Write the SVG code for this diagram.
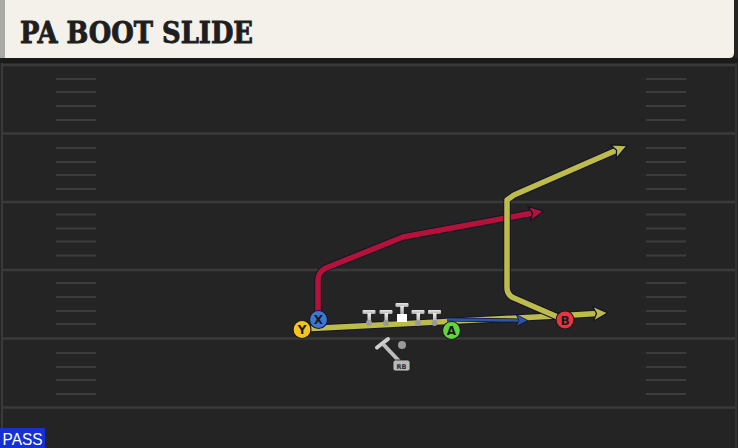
<svg xmlns="http://www.w3.org/2000/svg" width="738" height="448" viewBox="0 0 738 448">
<defs>
<style>
.yard{stroke:#3a3a3a;stroke-width:2.5}
.hash{stroke:#3c3c3c;stroke-width:2}
.out{fill:none;stroke:#15152a;stroke-width:7.5;stroke-linejoin:round;stroke-linecap:butt}
.rt{fill:none;stroke-width:5.5;stroke-linejoin:round}
.ylw{stroke:#bcbb4c}
.red{stroke:#b5123a}
.blu{stroke:#2c55a8}
.plr{stroke:#1b1b1b;stroke-width:1.2}
.pl{font-family:"DejaVu Sans","Liberation Sans",sans-serif;font-weight:bold;font-size:12px;fill:#1a1a1a;text-anchor:middle}
.dot{fill:#9a9a9a}
</style>
<marker id="ay" markerUnits="userSpaceOnUse" markerWidth="22" markerHeight="22" refX="6" refY="10" orient="auto" viewBox="0 0 22 20">
<path d="M2,2.5 L17,10 L2,17.5 L5.5,10 Z" fill="#bcbb4c" stroke="#15152a" stroke-width="1.3" stroke-linejoin="round"/>
</marker>
<marker id="ar" markerUnits="userSpaceOnUse" markerWidth="22" markerHeight="22" refX="6" refY="10" orient="auto" viewBox="0 0 22 20">
<path d="M2,2.5 L17,10 L2,17.5 L5.5,10 Z" fill="#b5123a" stroke="#15152a" stroke-width="1.3" stroke-linejoin="round"/>
</marker>
<marker id="ab" markerUnits="userSpaceOnUse" markerWidth="22" markerHeight="22" refX="6" refY="10" orient="auto" viewBox="0 0 22 20">
<path d="M3,4 L15,10 L3,16 L6,10 Z" fill="#2c55a8" stroke="#15152a" stroke-width="0.8" stroke-linejoin="round"/>
</marker>
<linearGradient id="tg" x1="0" y1="0" x2="0" y2="1">
<stop offset="0" stop-color="#ececec"/>
<stop offset="1" stop-color="#a8a8a8"/>
</linearGradient>
</defs>

<g id="field">
<rect x="0" y="0" width="738" height="448" fill="#242424"/>
<rect x="0" y="58" width="738" height="5" fill="#1a1a1a"/>
<line x1="2" y1="63" x2="2" y2="448" stroke="#3a3a3a" stroke-width="2"/>
<line x1="736" y1="63" x2="736" y2="448" stroke="#333" stroke-width="2"/>
<line class="yard" x1="3" y1="65" x2="735" y2="65"/>
<line class="yard" x1="3" y1="133.5" x2="735" y2="133.5"/>
<line class="yard" x1="3" y1="202" x2="735" y2="202"/>
<line class="yard" x1="3" y1="270" x2="735" y2="270"/>
<line class="yard" x1="3" y1="338.5" x2="735" y2="338.5"/>
<line class="yard" x1="3" y1="407.5" x2="735" y2="407.5"/>
<g id="hashL">
<line class="hash" x1="56" y1="79" x2="96" y2="79"/><line class="hash" x1="56" y1="92" x2="96" y2="92"/><line class="hash" x1="56" y1="106" x2="96" y2="106"/><line class="hash" x1="56" y1="120" x2="96" y2="120"/>
<line class="hash" x1="56" y1="148" x2="96" y2="148"/><line class="hash" x1="56" y1="162" x2="96" y2="162"/><line class="hash" x1="56" y1="175" x2="96" y2="175"/><line class="hash" x1="56" y1="189" x2="96" y2="189"/>
<line class="hash" x1="56" y1="214.5" x2="96" y2="214.5"/><line class="hash" x1="56" y1="228.5" x2="96" y2="228.5"/><line class="hash" x1="56" y1="241.5" x2="96" y2="241.5"/><line class="hash" x1="56" y1="255.5" x2="96" y2="255.5"/>
<line class="hash" x1="56" y1="283" x2="96" y2="283"/><line class="hash" x1="56" y1="297" x2="96" y2="297"/><line class="hash" x1="56" y1="311" x2="96" y2="311"/><line class="hash" x1="56" y1="324" x2="96" y2="324"/>
<line class="hash" x1="56" y1="353" x2="96" y2="353"/><line class="hash" x1="56" y1="367" x2="96" y2="367"/><line class="hash" x1="56" y1="380" x2="96" y2="380"/><line class="hash" x1="56" y1="394" x2="96" y2="394"/>
</g>
<g id="hashR">
<line class="hash" x1="646" y1="79" x2="686" y2="79"/><line class="hash" x1="646" y1="92" x2="686" y2="92"/><line class="hash" x1="646" y1="106" x2="686" y2="106"/><line class="hash" x1="646" y1="120" x2="686" y2="120"/>
<line class="hash" x1="646" y1="148" x2="686" y2="148"/><line class="hash" x1="646" y1="162" x2="686" y2="162"/><line class="hash" x1="646" y1="175" x2="686" y2="175"/><line class="hash" x1="646" y1="189" x2="686" y2="189"/>
<line class="hash" x1="646" y1="214.5" x2="686" y2="214.5"/><line class="hash" x1="646" y1="228.5" x2="686" y2="228.5"/><line class="hash" x1="646" y1="241.5" x2="686" y2="241.5"/><line class="hash" x1="646" y1="255.5" x2="686" y2="255.5"/>
<line class="hash" x1="646" y1="283" x2="686" y2="283"/><line class="hash" x1="646" y1="297" x2="686" y2="297"/><line class="hash" x1="646" y1="311" x2="686" y2="311"/><line class="hash" x1="646" y1="324" x2="686" y2="324"/>
<line class="hash" x1="646" y1="353" x2="686" y2="353"/><line class="hash" x1="646" y1="367" x2="686" y2="367"/><line class="hash" x1="646" y1="380" x2="686" y2="380"/><line class="hash" x1="646" y1="394" x2="686" y2="394"/>
</g>
</g>

<g id="header">
<path d="M0,0 H734 V53 Q734,58 729,58 H0 Z" fill="#f4f1ea"/>
<rect x="0" y="0" width="5" height="58" fill="#a9aaa8"/>
<text x="20" y="43" font-family="'DejaVu Serif','Liberation Serif',serif" font-weight="bold" font-size="29" fill="#1e1e1e" stroke="#1e1e1e" stroke-width="0.9" textLength="233" lengthAdjust="spacingAndGlyphs">PA BOOT SLIDE</text>
</g>

<g id="connectors">
<path class="out" d="M318,320 V280 Q318,272 326,268 L403,237 L533,213"/>
<path class="rt red" d="M318,320 V280 Q318,272 326,268 L403,237 L533,213" marker-end="url(#ar)"/>
<path class="out" d="M302,329 L556,316 L597,313.5"/>
<path class="rt ylw" d="M302,329 L556,316 L597,313.5" marker-end="url(#ay)"/>
<path class="out" d="M560,318 L514,298 Q507,295 507,288 V200 L514,195 L617,150"/>
<path class="rt ylw" d="M560,318 L514,298 Q507,295 507,288 V200 L514,195 L617,150" marker-end="url(#ay)"/>
<path d="M447,319.5 L519,320.5" fill="none" stroke="#15152a" stroke-width="4"/>
<path d="M447,319.5 L519,320.5" fill="none" stroke="#2c55a8" stroke-width="2.5" marker-end="url(#ab)"/>
</g>

<g id="line">
<g id="lt"><rect x="362.5" y="310" width="13" height="4" rx="1" fill="url(#tg)"/><rect x="367.5" y="313" width="3.5" height="10" fill="url(#tg)"/><circle class="dot" cx="369" cy="323" r="3"/></g>
<g id="lg"><rect x="379.5" y="310" width="13" height="4" rx="1" fill="url(#tg)"/><rect x="384.5" y="313" width="3.5" height="10" fill="url(#tg)"/><circle class="dot" cx="386" cy="323" r="3"/></g>
<g id="c"><rect x="395.5" y="303" width="13" height="4" rx="1" fill="url(#tg)"/><rect x="400.3" y="306" width="3.5" height="9" fill="url(#tg)"/><rect x="397" y="314" width="10" height="8" fill="#ffffff"/></g>
<g id="rg"><rect x="411.5" y="310" width="13" height="4" rx="1" fill="url(#tg)"/><rect x="416.5" y="313" width="3.5" height="10" fill="url(#tg)"/><circle class="dot" cx="418" cy="323" r="3"/></g>
<g id="rt"><rect x="428" y="310" width="13" height="4" rx="1" fill="url(#tg)"/><rect x="433" y="313" width="3.5" height="10" fill="url(#tg)"/><circle class="dot" cx="434.5" cy="323" r="3"/></g>
</g>

<g id="rb">
<line x1="377" y1="347.5" x2="388" y2="339" stroke="#cfcfcf" stroke-width="4" stroke-linecap="round"/>
<line x1="383" y1="344" x2="399" y2="361" stroke="#bdbdbd" stroke-width="4"/>
<circle cx="402" cy="345" r="4" fill="#9a9a9a"/>
<rect x="393" y="360" width="17" height="11" rx="2.5" fill="#b8b8b8" stroke="#1b1b1b" stroke-width="0.8"/>
<text x="401.5" y="368.5" font-family="'DejaVu Sans','Liberation Sans',sans-serif" font-size="6.5" font-weight="bold" fill="#2a2a2a" text-anchor="middle">RB</text>
</g>

<g id="Y"><circle class="plr" cx="302" cy="329.5" r="9" fill="#f6c41c"/><text class="pl" x="302" y="334">Y</text></g>
<g id="X"><circle class="plr" cx="318.5" cy="319.5" r="9" fill="#3b78d6"/><text class="pl" x="318.5" y="324">X</text></g>
<g id="A"><circle class="plr" cx="451.5" cy="330.5" r="9" fill="#62d43c"/><text class="pl" x="451.5" y="335">A</text></g>
<g id="B"><circle class="plr" cx="565" cy="320" r="9" fill="#e8343f"/><text class="pl" x="565" y="324.5">B</text></g>

<g id="badge">
<rect x="0" y="428" width="45" height="20" fill="#1530d6"/>
<text x="22.5" y="444.5" font-family="'Liberation Sans','DejaVu Sans',sans-serif" font-size="16" fill="#ffffff" text-anchor="middle" textLength="40" lengthAdjust="spacingAndGlyphs">PASS</text>
</g>
</svg>
